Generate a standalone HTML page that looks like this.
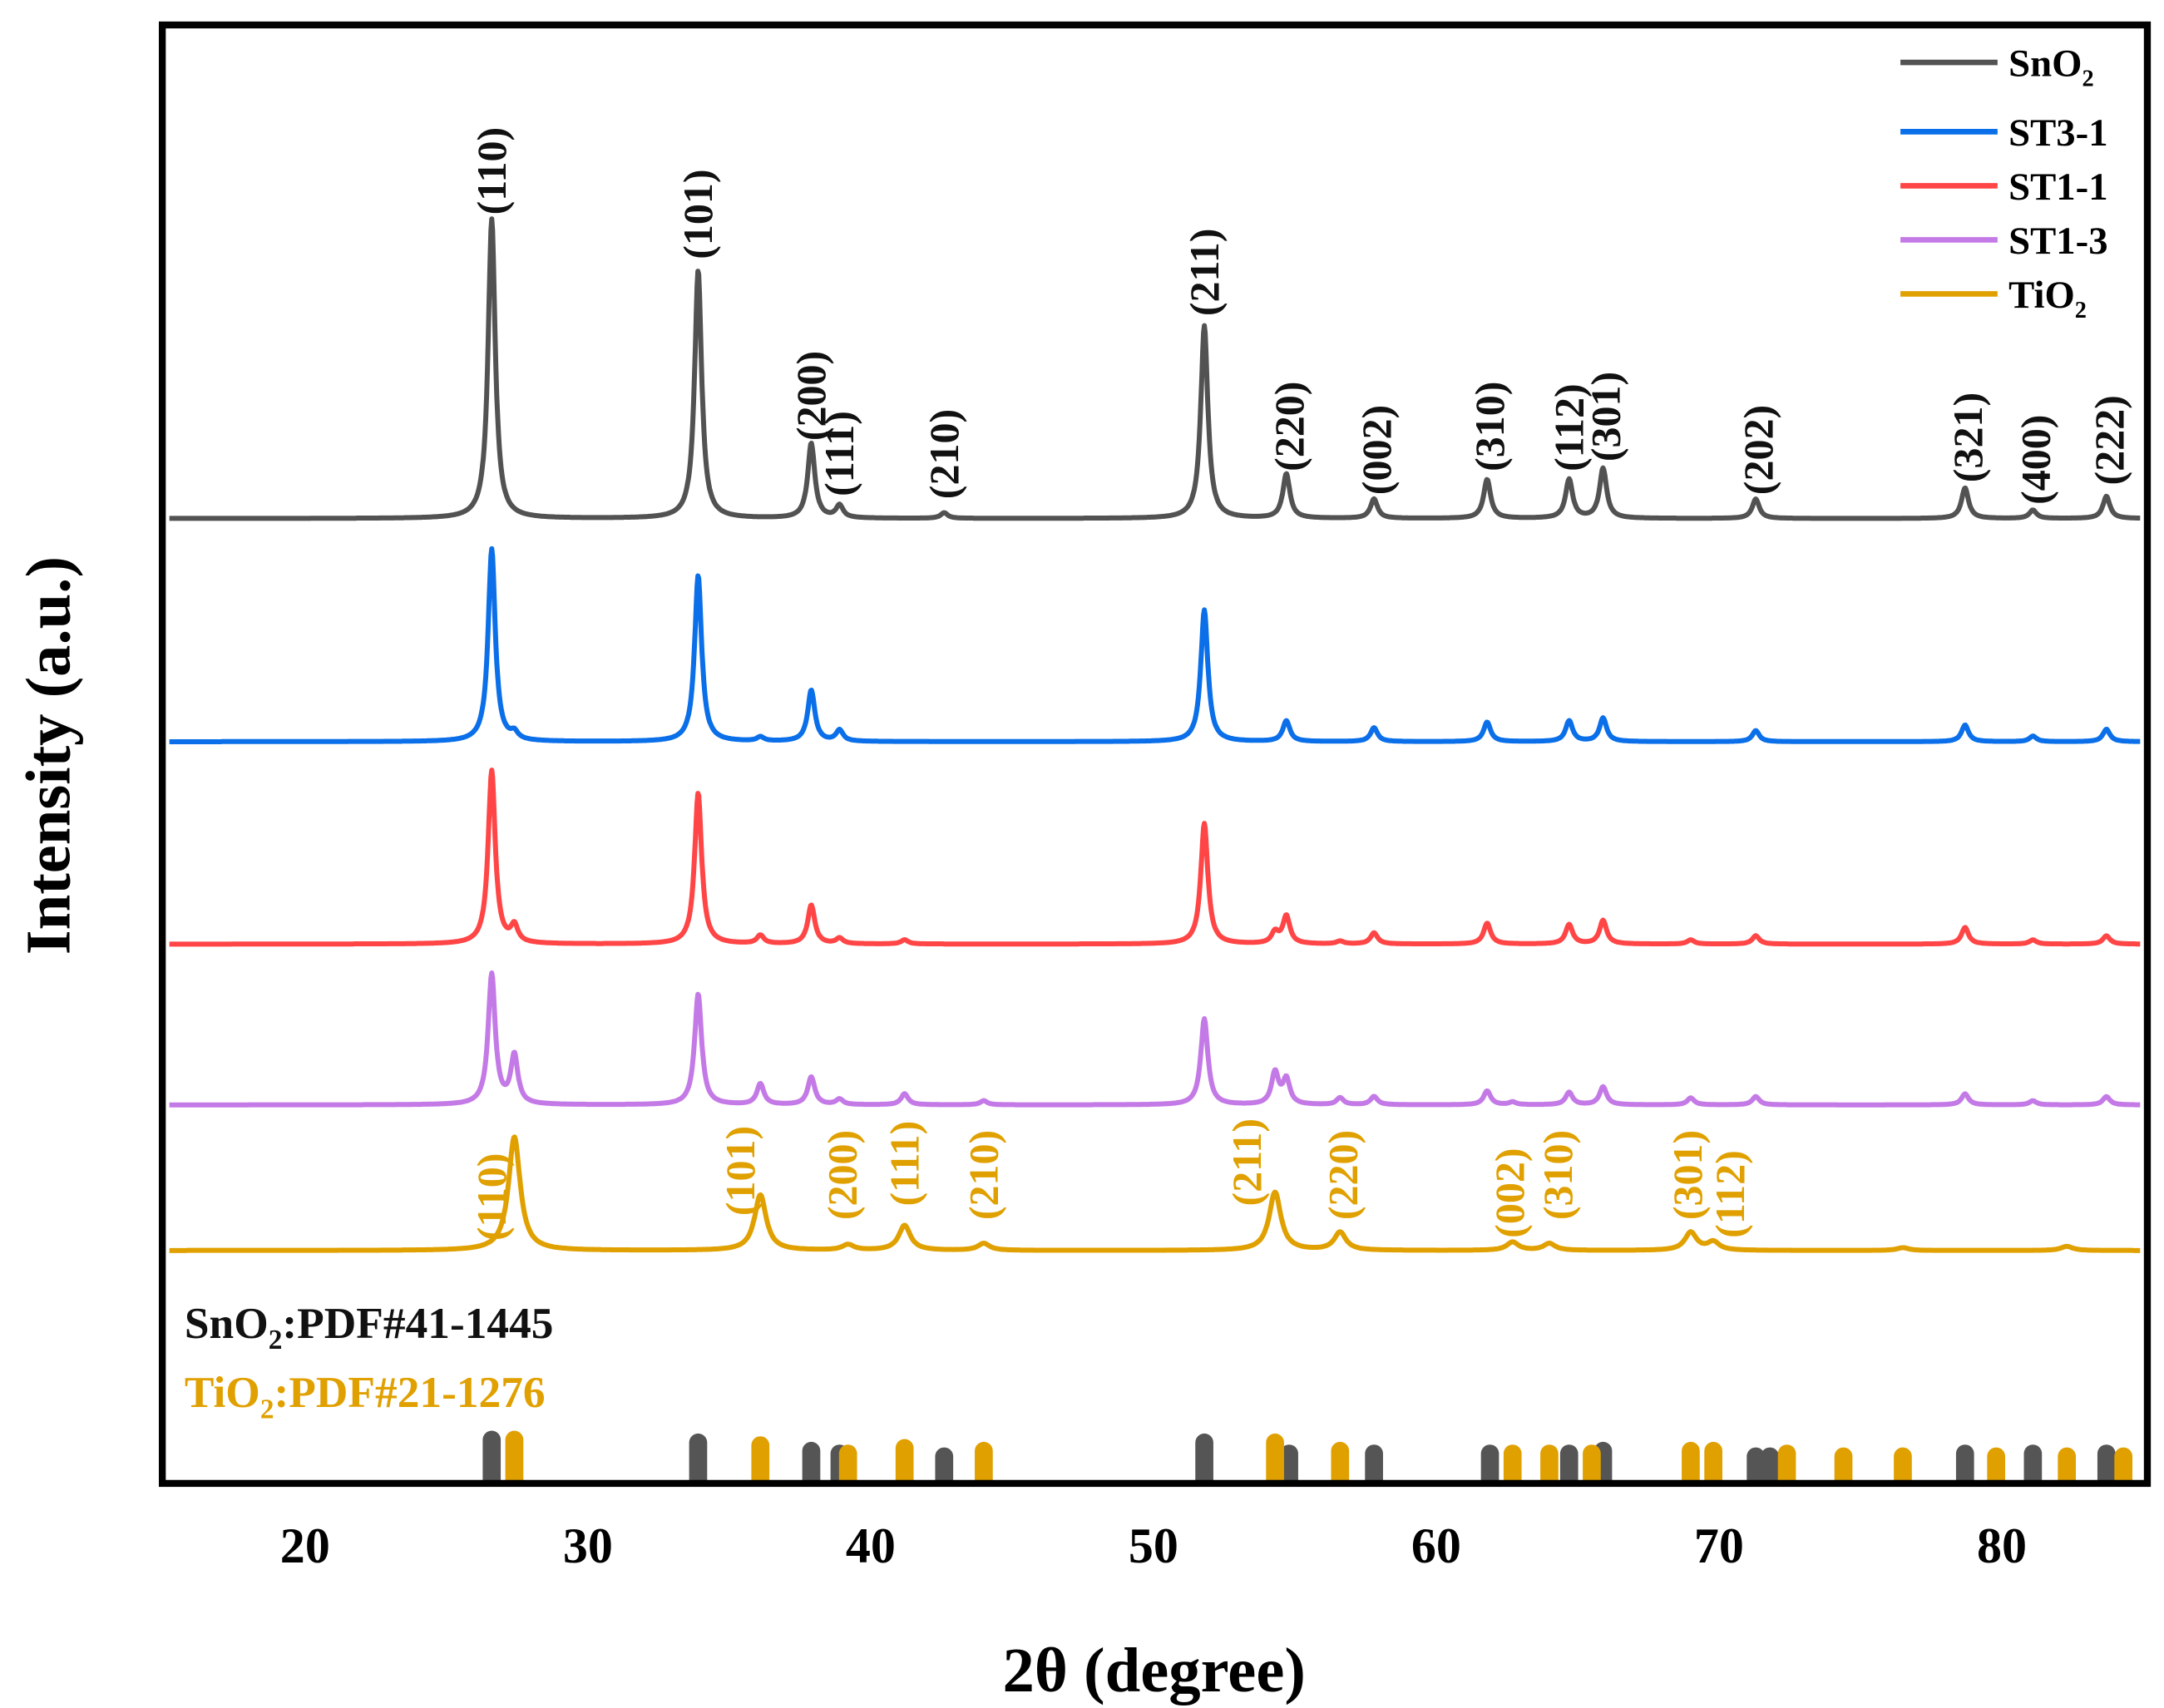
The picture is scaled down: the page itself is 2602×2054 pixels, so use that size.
<!DOCTYPE html>
<html><head><meta charset="utf-8"><style>
html,body{margin:0;padding:0;background:#fff}
svg{display:block}
text{font-family:"Liberation Serif",serif;font-weight:bold}
</style></head><body>
<svg id="chart" width="2602" height="2054" viewBox="0 0 1560 1232" preserveAspectRatio="none" xmlns="http://www.w3.org/2000/svg">
<rect x="0" y="0" width="1560" height="1232" fill="#fff"/>
<g id="series"></g>
<g id="sticks"></g>
<g id="hkl"></g>
<rect x="117" y="18" width="1431" height="1052" fill="none" stroke="#000" stroke-width="5"/>
<g id="xticks"></g>
<text x="832" y="1220" font-size="46" text-anchor="middle">2θ (degree)</text>
<text transform="translate(50,545) rotate(-90)" font-size="46" text-anchor="middle">Intensity (a.u.)</text>
<text x="133" y="965" font-size="32" fill="#111">SnO<tspan font-size="20" dy="8">2</tspan><tspan dy="-8">:PDF#41-1445</tspan></text>
<text x="133" y="1015" font-size="32" fill="#e0a000">TiO<tspan font-size="20" dy="8">2</tspan><tspan dy="-8">:PDF#21-1276</tspan></text>
<g id="legend"></g>
</svg>
<script>
const xMin=15, xMax=85;
const xTicks=[20,30,40,50,60,70,80];
const seriesNames=["SnO2","ST3-1","ST1-1","ST1-3","TiO2"];
const seriesColors=["#525252","#0a6fe8","#ff4545","#c47ae6","#e0a000"];
const baselines=[374,535,681,797,902];
const sno2Pos=[26.6,33.9,37.9,38.9,42.6,51.8,54.7,57.8,61.8,64.7,65.9,71.3,78.7,81.1,83.7];
const sno2Int=[216,179,54,9,4,139,32,14,28,28,36,14,22,6,16];
const st31Pos=[26.6,27.4,33.9,36.1,37.9,38.9,51.8,54.7,57.8,61.8,64.7,65.9,71.3,78.7,81.1,83.7];
const st31Int=[139,5,120,3,37,8,95,15,10,14,15,17,8,12,4,9];
const st11Pos=[26.6,27.4,33.9,36.1,37.9,38.9,41.2,51.8,54.3,54.7,56.6,57.8,61.8,64.7,65.9,69.0,71.3,78.7,81.1,83.7];
const st11Int=[125,12,109,6,28,4,3,87,8,20,2,8,15,14,17,3,6,12,3,6];
const st13Pos=[26.6,27.4,33.9,36.1,37.9,38.9,41.2,44.0,51.8,54.3,54.7,56.6,57.8,61.8,62.7,64.7,65.9,69.0,71.3,78.7,81.1,83.7];
const st13Int=[94,35,80,15,20,4,8,3,62,23,18,5,6,10,2,9,13,5,6,8,3,6];
const tio2Pos=[27.4,36.1,39.2,41.2,44.0,54.3,56.6,62.7,64.0,69.0,69.8,76.5,82.3];
const tio2Int=[82,40,4,18,5,42,13,6,5,13,6,2,3];
const refSnO2=[26.6,33.9,37.9,38.9,42.6,51.8,54.8,57.8,61.9,64.7,65.9,71.3,71.8,78.7,81.1,83.7];
const refSnO2H=[36,34,28,26,24,34,26,26,26,26,28,24,24,26,26,26];
const refTiO2=[27.4,36.1,39.2,41.2,44.0,54.3,56.6,62.7,64.0,65.5,69.0,69.8,72.4,74.4,76.5,79.8,82.3,84.3];
const refTiO2H=[36,32,26,30,28,34,28,26,26,26,28,28,26,24,24,24,24,24];
const sno2Hkl=["(110)","(101)","(200)","(111)","(210)","(211)","(220)","(002)","(310)","(112)","(301)","(202)","(321)","(400)","(222)"];
const sno2HklX=[26.6,33.9,37.9,38.9,42.6,51.8,54.8,57.9,61.9,64.7,66.0,71.4,78.8,81.2,83.8];
const sno2HklY=[155,187,318,358,360,228,340,357,340,340,333,357,348,364,350];
const tio2Hkl=["(110)","(101)","(200)","(111)","(210)","(211)","(220)","(002)","(310)","(301)","(112)"];
const tio2HklX=[26.6,35.4,39.0,41.2,44.0,53.3,56.7,62.6,64.3,68.9,70.4];
const tio2HklY=[895,877,880,870,880,870,880,893,880,880,893];

const posArr=[sno2Pos,st31Pos,st11Pos,st13Pos,tio2Pos];
const intArr=[sno2Int,st31Int,st11Int,st13Int,tio2Int];
const NS="http://www.w3.org/2000/svg";
function xs(v){return 118+(v-xMin)*(1545-118)/(xMax-xMin);}
function mk(tag,attrs,parent){const e=document.createElementNS(NS,tag);for(const k in attrs)e.setAttribute(k,attrs[k]);parent.appendChild(e);return e;}

const gS=document.getElementById('series');
for(let s=0;s<5;s++){
  let d="";
  const w = s===4?0.25:0.15;
  for(let x=15.2;x<=84.9;x+=0.03){
    let y=0;
    for(let i=0;i<posArr[s].length;i++){const t=(x-posArr[s][i])/w;y+=intArr[s][i]/(1+t*t);}
    d+=(d?"L":"M")+xs(x).toFixed(1)+","+(baselines[s]-y).toFixed(1);
  }
  const p=mk('path',{d:d,fill:"none",stroke:seriesColors[s],"stroke-width":3.6,"stroke-linejoin":"round"},gS);
  
  
}

const gK=document.getElementById('sticks');
function stick(x,h,col,name){
  const cx=xs(x),w=13,b=1068;
  const p=mk('path',{d:`M${cx-w/2},${b} L${cx-w/2},${b-h+w/2} A${w/2},${w/2} 0 0 1 ${cx+w/2},${b-h+w/2} L${cx+w/2},${b} Z`,fill:col},gK);
  
  
}
refSnO2.forEach((x,i)=>stick(x,refSnO2H[i],"#555","ref-stick-sno2"));
refTiO2.forEach((x,i)=>stick(x,refTiO2H[i],"#e0a000","ref-stick-tio2"));

const gH=document.getElementById('hkl');
function hkl(x,y,txt,col,name){
  const t=mk('text',{transform:`translate(${xs(x)+10},${y}) rotate(-90)`,"font-size":30,fill:col},gH);
  t.textContent=txt;
  
  
}
sno2Hkl.forEach((t,i)=>hkl(sno2HklX[i],sno2HklY[i],t,"#111","hkl-label-sno2"));
tio2Hkl.forEach((t,i)=>hkl(tio2HklX[i],tio2HklY[i],t,"#e0a000","hkl-label-tio2"));

const gX=document.getElementById('xticks');
xTicks.forEach(v=>{
  const t=mk('text',{x:xs(v),y:1127,"font-size":36,"text-anchor":"middle"},gX);
  t.textContent=v;
  
  
});

const gL=document.getElementById('legend');
const legY=[45,95,134,173,212];
seriesNames.forEach((n,i)=>{
  const l=mk('line',{x1:1370,x2:1440,y1:legY[i],y2:legY[i],stroke:seriesColors[i],"stroke-width":4},gL);
  
  
  const t=mk('text',{x:1448,y:legY[i]+10,"font-size":28},gL);
  
  
  if(n.endsWith("O2")){
    t.textContent=n.slice(0,-1);
    const s=mk('tspan',{"font-size":17,dy:7},t);s.textContent="2";
  } else t.textContent=n;
});
</script>
</body></html>
